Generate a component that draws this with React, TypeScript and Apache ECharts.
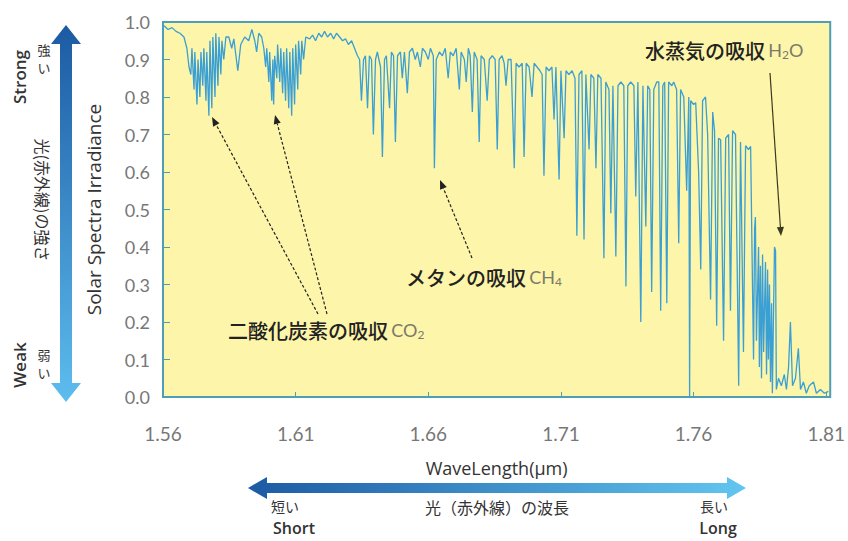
import React, { useEffect, useRef } from "react";
import * as echarts from "echarts";

// Wavelength (µm) and normalised solar spectral irradiance
const wavelength = [
  1.5604, 1.5619, 1.5634, 1.5649, 1.5664, 1.5679, 1.5690, 1.5698,
  1.5705, 1.5709, 1.5717, 1.5720, 1.5728, 1.5732, 1.5739, 1.5743, 1.5750, 1.5754, 1.5762, 1.5765,
  1.5773, 1.5777, 1.5784, 1.5788, 1.5796, 1.5799, 1.5807, 1.5811, 1.5818, 1.5822, 1.5829, 1.5837,
  1.5848, 1.5859, 1.5867, 1.5882, 1.5893, 1.5908, 1.5923, 1.5935, 1.5946, 1.5953, 1.5961, 1.5972, 1.5980,
  1.5987, 1.5991, 1.5999, 1.6002, 1.6010, 1.6014, 1.6017, 1.6021, 1.6029, 1.6032, 1.6040, 1.6044,
  1.6051, 1.6055, 1.6062, 1.6066, 1.6074, 1.6078, 1.6085, 1.6089, 1.6096, 1.6100, 1.6108, 1.6111,
  1.6119, 1.6123, 1.6130, 1.6138,
  1.6153, 1.6164, 1.6175, 1.6187, 1.6198, 1.6209, 1.6220, 1.6232, 1.6243, 1.6254, 1.6266, 1.6277,
  1.6288, 1.6299, 1.6311, 1.6322, 1.6333,
  1.6341, 1.6348, 1.6356, 1.6363, 1.6371, 1.6378, 1.6386, 1.6393, 1.6401, 1.6408, 1.6420, 1.6427,
  1.6435, 1.6442, 1.6454, 1.6461, 1.6469, 1.6476, 1.6484, 1.6495, 1.6502, 1.6510, 1.6521, 1.6529,
  1.6540, 1.6551, 1.6559, 1.6570, 1.6578, 1.6589, 1.6600, 1.6608, 1.6619, 1.6623, 1.6630, 1.6642,
  1.6653, 1.6664, 1.6675, 1.6683, 1.6694, 1.6705, 1.6717, 1.6724, 1.6736, 1.6743, 1.6751, 1.6758,
  1.6766, 1.6773, 1.6784, 1.6792, 1.6799, 1.6811, 1.6822, 1.6830,
  1.6841, 1.6852, 1.6860, 1.6867, 1.6878, 1.6886, 1.6893, 1.6901, 1.6912, 1.6924, 1.6931, 1.6942,
  1.6954, 1.6961, 1.6969, 1.6980, 1.6991, 1.6999, 1.7010, 1.7021, 1.7029, 1.7036, 1.7044, 1.7055,
  1.7066, 1.7074, 1.7081, 1.7093, 1.7100, 1.7112, 1.7119, 1.7130, 1.7142, 1.7153, 1.7160, 1.7168,
  1.7179, 1.7187, 1.7194, 1.7206, 1.7213, 1.7224, 1.7232, 1.7239, 1.7251, 1.7262, 1.7269, 1.7281,
  1.7288, 1.7296, 1.7307, 1.7315, 1.7326, 1.7337, 1.7345, 1.7352, 1.7363, 1.7375, 1.7382, 1.7390,
  1.7401, 1.7409, 1.7420, 1.7427, 1.7435, 1.7442, 1.7450, 1.7461,
  1.7469, 1.7476, 1.7484, 1.7491, 1.7499, 1.7506, 1.7518, 1.7525, 1.7536, 1.7544, 1.7551, 1.7563,
  1.7574, 1.7582, 1.7585, 1.7589, 1.7600, 1.7608, 1.7619, 1.7627, 1.7634, 1.7645, 1.7653, 1.7664,
  1.7672, 1.7679, 1.7687, 1.7694, 1.7702, 1.7713, 1.7721, 1.7732, 1.7739, 1.7747, 1.7758, 1.7770,
  1.7777, 1.7788, 1.7796, 1.7807, 1.7815, 1.7822, 1.7826, 1.7830, 1.7833, 1.7837, 1.7845, 1.7848,
  1.7852, 1.7856, 1.7860, 1.7864, 1.7871, 1.7875, 1.7879, 1.7882, 1.7886, 1.7890, 1.7894, 1.7897,
  1.7905, 1.7909, 1.7912, 1.7920, 1.7931, 1.7942, 1.7950, 1.7958, 1.7965, 1.7973, 1.7984, 1.7995,
  1.8003, 1.8014, 1.8025, 1.8036, 1.8052, 1.8063, 1.8078, 1.8093, 1.8108,
];

const irradiance = [
  0.99, 0.98, 0.985, 0.975, 0.97, 0.96, 0.93, 0.88,
  0.86, 0.93, 0.82, 0.92, 0.78, 0.90, 0.80, 0.92, 0.83, 0.93, 0.79, 0.92,
  0.75, 0.95, 0.77, 0.96, 0.80, 0.97, 0.83, 0.96, 0.86, 0.95, 0.90, 0.96,
  0.96, 0.93, 0.955, 0.87, 0.94, 0.96, 0.95, 0.98, 0.95, 0.92, 0.97, 0.96, 0.93,
  0.88, 0.93, 0.84, 0.92, 0.79, 0.90, 0.78, 0.91, 0.85, 0.94, 0.84, 0.93,
  0.81, 0.92, 0.79, 0.93, 0.77, 0.92, 0.75, 0.93, 0.78, 0.94, 0.82, 0.95,
  0.86, 0.95, 0.90, 0.96,
  0.955, 0.965, 0.95, 0.97, 0.96, 0.975, 0.96, 0.97, 0.955, 0.97, 0.96, 0.95,
  0.955, 0.94, 0.95, 0.93, 0.91,
  0.90, 0.79, 0.90, 0.91, 0.77, 0.91, 0.90, 0.70, 0.90, 0.92, 0.88, 0.64,
  0.90, 0.91, 0.77, 0.92, 0.91, 0.68, 0.91, 0.92, 0.85, 0.92, 0.81, 0.92,
  0.93, 0.90, 0.92, 0.88, 0.93, 0.92, 0.90, 0.93, 0.91, 0.61, 0.90, 0.92,
  0.91, 0.93, 0.85, 0.92, 0.91, 0.93, 0.82, 0.92, 0.90, 0.84, 0.93, 0.91,
  0.76, 0.92, 0.90, 0.68, 0.91, 0.90, 0.79, 0.90,
  0.91, 0.90, 0.66, 0.90, 0.91, 0.89, 0.83, 0.90, 0.90, 0.61, 0.89, 0.88,
  0.89, 0.64, 0.89, 0.88, 0.80, 0.89, 0.88, 0.87, 0.86, 0.59, 0.88, 0.87,
  0.88, 0.74, 0.88, 0.58, 0.87, 0.69, 0.87, 0.86, 0.87, 0.85, 0.43, 0.86,
  0.87, 0.42, 0.86, 0.66, 0.86, 0.85, 0.61, 0.86, 0.85, 0.37, 0.84, 0.82,
  0.49, 0.83, 0.375, 0.83, 0.84, 0.83, 0.295, 0.83, 0.84, 0.83, 0.535, 0.84,
  0.20, 0.83, 0.455, 0.83, 0.82, 0.28, 0.82, 0.84,
  0.84, 0.23, 0.83, 0.84, 0.25, 0.84, 0.83, 0.84, 0.82, 0.41, 0.82, 0.80,
  0.55, 0.80, 0.00, 0.79, 0.78, 0.785, 0.60, 0.34, 0.79, 0.80, 0.70, 0.26,
  0.76, 0.71, 0.19, 0.69, 0.686, 0.15, 0.69, 0.70, 0.23, 0.71, 0.70, 0.03,
  0.68, 0.12, 0.67, 0.66, 0.668, 0.30, 0.10, 0.45, 0.48, 0.15, 0.40, 0.08,
  0.35, 0.05, 0.38, 0.12, 0.36, 0.06, 0.34, 0.10, 0.30, 0.04, 0.25, 0.01,
  0.40, 0.39, 0.02, 0.05, 0.03, 0.06, 0.02, 0.08, 0.20, 0.03, 0.05, 0.13,
  0.02, 0.04, 0.01, 0.03, 0.04, 0.01, 0.02, 0.01, 0.015,
];

const xTickValues = [1.56, 1.61, 1.66, 1.71, 1.76, 1.81];
const xMin = 1.56;
const xMax = 1.8115;
const yMin = 0;
const yMax = 1;
const yStep = 0.1;

const FRAME = "#4f9fb4";
const PLOT_BG = "#fdf5a9";
const LINE = "#3a9fd5";
const CJK = "'Noto Sans CJK JP', 'Noto Sans', sans-serif";
const LAT = "Lato, 'Noto Sans', sans-serif";
const OPEN = "'Open Sans', 'Noto Sans', sans-serif";

function head(tx: number, ty: number, fx: number, fy: number, len = 9, half = 3.6) {
  const dx = tx - fx;
  const dy = ty - fy;
  const L = Math.hypot(dx, dy);
  const ux = dx / L;
  const uy = dy / L;
  const bx = tx - ux * len;
  const by = ty - uy * len;
  return {
    pts: [
      [tx, ty],
      [bx - uy * half, by + ux * half],
      [bx + uy * half, by - ux * half],
    ],
    bx,
    by,
  };
}

function arrow(fx: number, fy: number, tx: number, ty: number, dashed: boolean, color: string) {
  const h = head(tx, ty, fx, fy);
  return [
    {
      type: "line",
      silent: true,
      shape: { x1: fx, y1: fy, x2: h.bx, y2: h.by },
      style: { stroke: color, lineWidth: 1.2, lineDash: dashed ? [3, 2] : null },
    },
    {
      type: "polygon",
      silent: true,
      shape: { points: h.pts },
      style: { fill: color },
    },
  ];
}

export default function App() {
  const ref = useRef<HTMLDivElement>(null);

  useEffect(() => {
    if (!ref.current) return;
    const chart = echarts.init(ref.current, null, { renderer: "svg" });

    const data = wavelength.map((w, i) => [w, irradiance[i]]);

    // vertical double arrow (strength)
    const vx = 66;
    const vTop = 25;
    const vBot = 402;
    const vArrow = {
      type: "polygon",
      silent: true,
      shape: {
        points: [
          [vx, vTop],
          [vx - 15, vTop + 19],
          [vx - 6, vTop + 19],
          [vx - 6, vBot - 19],
          [vx - 15, vBot - 19],
          [vx, vBot],
          [vx + 15, vBot - 19],
          [vx + 6, vBot - 19],
          [vx + 6, vTop + 19],
          [vx + 15, vTop + 19],
        ],
      },
      style: {
        fill: new echarts.graphic.LinearGradient(0, 0, 0, 1, [
          { offset: 0, color: "#1c5aa3" },
          { offset: 1, color: "#5dbdee" },
        ]),
      },
    };

    // horizontal double arrow (wavelength)
    const hy = 488;
    const hL = 248;
    const hR = 746;
    const hArrow = {
      type: "polygon",
      silent: true,
      shape: {
        points: [
          [hL, hy],
          [hL + 19, hy - 11],
          [hL + 19, hy - 5],
          [hR - 19, hy - 5],
          [hR - 19, hy - 11],
          [hR, hy],
          [hR - 19, hy + 11],
          [hR - 19, hy + 5],
          [hL + 19, hy + 5],
          [hL + 19, hy + 11],
        ],
      },
      style: {
        fill: new echarts.graphic.LinearGradient(0, 0, 1, 0, [
          { offset: 0, color: "#1c5aa3" },
          { offset: 1, color: "#62c6f0" },
        ]),
      },
    };

    const txt = (
      text: string,
      x: number,
      y: number,
      opts: any = {},
      rotation = 0
    ) => ({
      type: "text",
      silent: true,
      x,
      y,
      rotation,
      style: {
        text,
        fill: "#333",
        fontSize: 15,
        fontFamily: CJK,
        align: "center",
        verticalAlign: "middle",
        ...opts,
      },
    });

    const richAnno = {
      j: { fontSize: 20, fontFamily: CJK, fill: "#222", fontWeight: 500 },
      e: { fontSize: 18, fontFamily: LAT, fill: "#7a7a6a" },
      s: { fontSize: 12, fontFamily: LAT, fill: "#7a7a6a", verticalAlign: "bottom" },
    };

    const graphic: any[] = [
      vArrow,
      hArrow,
      txt("Strong", 19, 77, { fontFamily: OPEN, fontWeight: 600, fontSize: 17 }, Math.PI / 2),
      txt("Weak", 19, 365, { fontFamily: OPEN, fontWeight: 600, fontSize: 17 }, Math.PI / 2),
      txt("強", 44, 49, { fontSize: 13 }),
      txt("い", 44, 67, { fontSize: 13 }),
      txt("弱", 44, 354, { fontSize: 13 }),
      txt("い", 44, 372, { fontSize: 13 }),
      txt("光(赤外線)の強さ", 43, 200, { fontSize: 16 }, -Math.PI / 2),
      txt("短い", 285, 506, { fontSize: 14 }),
      txt("Short", 294, 528, { fontFamily: OPEN, fontWeight: 600, fontSize: 16 }),
      txt("光（赤外線）の波長", 497, 507, { fontSize: 16 }),
      txt("長い", 714, 506, { fontSize: 14 }),
      txt("Long", 718, 528, { fontFamily: OPEN, fontWeight: 600, fontSize: 16 }),
      {
        type: "text",
        silent: true,
        x: 228,
        y: 330,
        style: {
          text: "{j|二酸化炭素の吸収} {e|CO}{s|2}",
          rich: richAnno,
          verticalAlign: "middle",
        },
      },
      {
        type: "text",
        silent: true,
        x: 406,
        y: 277,
        style: {
          text: "{j|メタンの吸収} {e|CH}{s|4}",
          rich: richAnno,
          verticalAlign: "middle",
        },
      },
      {
        type: "text",
        silent: true,
        x: 645,
        y: 50,
        style: {
          text: "{j|水蒸気の吸収} {e|H}{s|2}{e|O}",
          rich: richAnno,
          verticalAlign: "middle",
        },
      },
      ...arrow(318, 314, 212, 117, true, "#222"),
      ...arrow(327, 314, 275, 115, true, "#222"),
      ...arrow(472, 258, 440, 180, true, "#222"),
      ...arrow(770, 73, 781, 236, false, "#3b3a20"),
    ];

    chart.setOption({
      animation: false,
      backgroundColor: "#ffffff",
      grid: {
        left: 163,
        right: 16,
        top: 22,
        bottom: 144,
        show: true,
        backgroundColor: PLOT_BG,
        borderColor: FRAME,
        borderWidth: 2,
      },
      xAxis: {
        type: "value",
        min: xMin,
        max: xMax,
        axisLine: { show: false },
        splitLine: { show: false },
        axisTick: {
          show: true,
          inside: true,
          length: 5,
          customValues: xTickValues,
          lineStyle: { color: FRAME },
        },
        axisLabel: {
          customValues: xTickValues,
          formatter: (v: number) => v.toFixed(2),
          margin: 27,
          fontSize: 19,
          color: "#777",
          fontFamily: LAT,
        },
        name: "WaveLength(μm)",
        nameLocation: "middle",
        nameGap: 62,
        nameTextStyle: { fontSize: 18, color: "#333", fontFamily: OPEN },
      },
      yAxis: {
        type: "value",
        min: yMin,
        max: yMax,
        interval: yStep,
        axisLine: { show: false },
        splitLine: { show: false },
        axisTick: { show: true, inside: true, length: 7, lineStyle: { color: FRAME } },
        axisLabel: {
          formatter: (v: number) => v.toFixed(1),
          margin: 13,
          fontSize: 18,
          color: "#777",
          fontFamily: LAT,
        },
        name: "Solar Spectra Irradiance",
        nameLocation: "middle",
        nameRotate: 90,
        nameGap: 60,
        nameTextStyle: { fontSize: 19, color: "#333", fontFamily: OPEN },
      },
      series: [
        {
          type: "line",
          data,
          showSymbol: false,
          symbol: "none",
          clip: true,
          lineStyle: { color: LINE, width: 1.3 },
        },
      ],
      graphic,
    });

    return () => chart.dispose();
  }, []);

  return (
    <div
      ref={ref}
      style={{ position: "absolute", left: 0, top: 0, width: 848, height: 541 }}
    />
  );
}
